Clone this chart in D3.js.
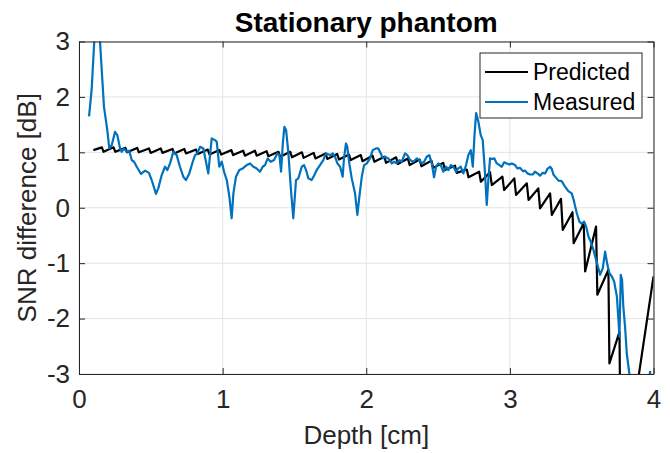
<!DOCTYPE html>
<html><head><meta charset="utf-8">
<script src="https://cdn.jsdelivr.net/npm/d3@7"></script>
<style>body{margin:0;background:#fff}svg{display:block}text{font-family:"Liberation Sans",Arial,Helvetica,sans-serif}</style>
</head><body>
<script>
const title = "Stationary phantom";
const xLabel = "Depth [cm]";
const yLabel = "SNR difference [dB]";
const seriesNames = ["Predicted", "Measured"];
const xTicks = [0, 1, 2, 3, 4];
const yTicks = [-3, -2, -1, 0, 1, 2, 3];

const predictedX = [0.100, 0.159, 0.171, 0.241, 0.253, 0.323, 0.335, 0.405, 0.417, 0.487, 0.499, 0.569, 0.581, 0.651, 0.663, 0.733, 0.745, 0.815, 0.827, 0.897, 0.909, 0.978, 0.990, 1.061, 1.073, 1.143, 1.155, 1.225, 1.237, 1.306, 1.318, 1.389, 1.401, 1.471, 1.483, 1.552, 1.564, 1.634, 1.646, 1.717, 1.729, 1.798, 1.810, 1.880, 1.892, 1.962, 1.974, 2.044, 2.056, 2.126, 2.138, 2.208, 2.220, 2.290, 2.302, 2.372, 2.384, 2.454, 2.466, 2.536, 2.548, 2.618, 2.630, 2.700, 2.712, 2.786, 2.798, 2.862, 2.874, 2.948, 2.960, 3.031, 3.043, 3.118, 3.130, 3.198, 3.210, 3.280, 3.292, 3.356, 3.368, 3.436, 3.444, 3.514, 3.524, 3.600, 3.609, 3.686, 3.693, 3.763, 3.768, 3.870, 4.000];
const predictedY = [1.04, 1.09, 1.01, 1.09, 1.01, 1.08, 1.00, 1.08, 1.00, 1.07, 0.99, 1.07, 0.99, 1.06, 0.98, 1.06, 0.98, 1.05, 0.97, 1.05, 0.96, 1.04, 0.96, 1.04, 0.95, 1.03, 0.94, 1.03, 0.94, 1.02, 0.93, 1.01, 0.92, 1.01, 0.91, 1.00, 0.90, 0.99, 0.89, 0.98, 0.88, 0.97, 0.87, 0.96, 0.86, 0.95, 0.84, 0.94, 0.83, 0.92, 0.81, 0.91, 0.79, 0.89, 0.77, 0.87, 0.75, 0.85, 0.72, 0.81, 0.68, 0.76, 0.63, 0.69, 0.55, 0.65, 0.47, 0.64, 0.41, 0.56, 0.32, 0.53, 0.23, 0.44, 0.14, 0.35, -0.01, 0.26, -0.13, 0.16, -0.40, -0.08, -0.64, -0.28, -1.15, -0.34, -1.57, -1.12, -2.81, -2.24, -3.60, -3.50, -1.24];

const measuredX = [0.070, 0.088, 0.125, 0.174, 0.197, 0.211, 0.228, 0.251, 0.267, 0.286, 0.297, 0.313, 0.332, 0.350, 0.367, 0.383, 0.402, 0.432, 0.460, 0.487, 0.506, 0.536, 0.552, 0.576, 0.599, 0.615, 0.634, 0.657, 0.680, 0.703, 0.726, 0.745, 0.768, 0.792, 0.808, 0.824, 0.843, 0.866, 0.884, 0.900, 0.924, 0.947, 0.959, 0.977, 0.994, 1.010, 1.029, 1.047, 1.063, 1.075, 1.093, 1.116, 1.140, 1.168, 1.191, 1.214, 1.237, 1.260, 1.279, 1.295, 1.314, 1.335, 1.358, 1.381, 1.395, 1.407, 1.419, 1.430, 1.442, 1.458, 1.474, 1.492, 1.511, 1.527, 1.551, 1.567, 1.581, 1.597, 1.620, 1.639, 1.655, 1.678, 1.701, 1.720, 1.748, 1.767, 1.783, 1.799, 1.818, 1.836, 1.845, 1.859, 1.868, 1.882, 1.899, 1.922, 1.938, 1.952, 1.969, 1.985, 2.004, 2.026, 2.045, 2.068, 2.084, 2.101, 2.115, 2.131, 2.154, 2.178, 2.194, 2.212, 2.231, 2.247, 2.270, 2.286, 2.305, 2.328, 2.352, 2.370, 2.387, 2.403, 2.421, 2.439, 2.456, 2.472, 2.486, 2.502, 2.519, 2.537, 2.556, 2.572, 2.589, 2.607, 2.625, 2.641, 2.658, 2.676, 2.695, 2.711, 2.728, 2.742, 2.753, 2.765, 2.781, 2.797, 2.811, 2.827, 2.839, 2.850, 2.862, 2.878, 2.892, 2.909, 2.927, 2.944, 2.960, 2.978, 2.997, 3.013, 3.036, 3.052, 3.071, 3.090, 3.106, 3.122, 3.141, 3.159, 3.175, 3.192, 3.210, 3.229, 3.245, 3.261, 3.280, 3.292, 3.303, 3.322, 3.338, 3.361, 3.384, 3.407, 3.431, 3.447, 3.466, 3.484, 3.501, 3.517, 3.531, 3.547, 3.563, 3.582, 3.600, 3.616, 3.628, 3.647, 3.663, 3.679, 3.693, 3.710, 3.726, 3.745, 3.756, 3.763, 3.772, 3.781, 3.790, 3.802, 3.814, 3.832, 3.851, 3.942, 3.976, 4.000];
const measuredY = [1.65, 2.13, 3.90, 1.82, 1.40, 1.07, 1.13, 1.37, 1.31, 1.07, 1.01, 1.07, 1.01, 1.03, 0.86, 0.83, 0.74, 0.61, 0.67, 0.63, 0.50, 0.25, 0.35, 0.59, 0.74, 0.68, 0.80, 1.01, 0.95, 0.74, 0.56, 0.50, 0.62, 0.83, 0.95, 0.98, 1.10, 1.07, 0.83, 0.62, 1.25, 1.22, 1.19, 0.74, 0.83, 0.65, 0.50, 0.20, -0.19, 0.26, 0.56, 0.68, 0.71, 0.77, 0.80, 0.74, 0.71, 0.65, 0.74, 0.77, 0.89, 0.83, 0.86, 0.98, 0.95, 0.65, 1.16, 1.46, 1.40, 0.98, 0.38, -0.19, 0.50, 0.53, 0.74, 0.77, 0.68, 0.53, 0.50, 0.59, 0.68, 0.77, 0.86, 0.98, 0.95, 0.98, 0.92, 0.80, 0.74, 0.56, 0.89, 1.16, 1.10, 0.80, 0.53, 0.26, -0.13, 0.20, 0.56, 0.77, 0.80, 0.89, 1.04, 1.07, 1.07, 0.98, 0.89, 0.92, 0.89, 0.80, 0.83, 0.80, 0.86, 0.83, 0.98, 0.95, 0.86, 0.83, 0.89, 0.86, 0.80, 0.83, 0.92, 0.95, 0.80, 0.55, 0.74, 0.80, 0.77, 0.65, 0.74, 0.68, 0.77, 0.74, 0.65, 0.71, 0.74, 0.62, 0.77, 0.95, 1.04, 0.74, 1.28, 1.71, 1.55, 1.31, 1.22, 0.62, 0.05, 0.50, 0.89, 0.88, 0.89, 0.80, 0.77, 0.74, 0.82, 0.80, 0.78, 0.80, 0.77, 0.71, 0.72, 0.66, 0.67, 0.62, 0.60, 0.60, 0.65, 0.62, 0.58, 0.63, 0.62, 0.70, 0.74, 0.70, 0.60, 0.54, 0.49, 0.48, 0.38, 0.30, 0.26, 0.11, -0.10, -0.25, -0.29, -0.25, -0.34, -0.52, -0.61, -0.76, -0.94, -1.09, -1.21, -1.09, -0.79, -1.03, -1.18, -1.24, -1.33, -1.60, -2.03, -2.33, -1.21, -1.30, -1.79, -2.15, -2.63, -3.00, -3.50, -3.60, -2.96, -3.50];

const W = 670, H = 453;
const L = 79, R = 653.5, T = 41.5, B = 374;
const axisColor = "#262626";

const svg = d3.select("body").append("svg").attr("width", W).attr("height", H);
const x = d3.scaleLinear().domain([0, 4]).range([L, R]);
const y = d3.scaleLinear().domain([-3, 3]).range([B, T]);

// grid
const g = svg.append("g");
g.selectAll("line.gx").data(xTicks).join("line")
  .attr("x1", d => x(d)).attr("x2", d => x(d)).attr("y1", T).attr("y2", B)
  .attr("stroke", "#e3e3e3").attr("stroke-width", 1);
g.selectAll("line.gy").data(yTicks).join("line")
  .attr("y1", d => y(d)).attr("y2", d => y(d)).attr("x1", L).attr("x2", R)
  .attr("stroke", "#e3e3e3").attr("stroke-width", 1);

// clip
svg.append("clipPath").attr("id", "clip").append("rect")
  .attr("x", L).attr("y", T).attr("width", R - L).attr("height", B - T);

const line = d3.line().x(d => x(d[0])).y(d => y(d[1]));
const pred = predictedX.map((v, i) => [v, predictedY[i]]);
const meas = measuredX.map((v, i) => [v, measuredY[i]]);
const plot = svg.append("g").attr("clip-path", "url(#clip)");
plot.append("path").datum(pred).attr("d", line).attr("fill", "none")
  .attr("stroke", "#000").attr("stroke-width", 2.2).attr("stroke-linejoin", "round");
plot.append("path").datum(meas).attr("d", line).attr("fill", "none")
  .attr("stroke", "#0072BD").attr("stroke-width", 2.2).attr("stroke-linejoin", "round");

// axes
const tickLen = 6;
const fmt = d => String(d);
const xAxisB = d3.axisBottom(x).tickValues(xTicks).tickSizeInner(-tickLen).tickSizeOuter(0).tickPadding(16).tickFormat(fmt);
const yAxisL = d3.axisLeft(y).tickValues(yTicks).tickSizeInner(-tickLen).tickSizeOuter(0).tickPadding(9).tickFormat(fmt);
const xAxisT = d3.axisTop(x).tickValues(xTicks).tickSizeInner(-tickLen).tickSizeOuter(0).tickFormat("");
const yAxisR = d3.axisRight(y).tickValues(yTicks).tickSizeInner(-tickLen).tickSizeOuter(0).tickFormat("");

function styleAxis(sel, fs) {
  sel.select(".domain").attr("stroke", axisColor).attr("stroke-width", 1);
  sel.selectAll(".tick line").attr("stroke", axisColor).attr("stroke-width", 1);
  sel.selectAll(".tick text").attr("fill", axisColor).style("font-size", fs + "px")
    .style("font-family", '"Liberation Sans", Arial, sans-serif');
}
svg.append("g").attr("transform", `translate(0,${B})`).call(xAxisB).call(s => styleAxis(s, 26));
svg.append("g").attr("transform", `translate(${L},0)`).call(yAxisL).call(s => styleAxis(s, 26));
svg.append("g").attr("transform", `translate(0,${T})`).call(xAxisT).call(s => styleAxis(s, 26));
svg.append("g").attr("transform", `translate(${R},0)`).call(yAxisR).call(s => styleAxis(s, 26));

// labels
svg.append("text").attr("x", (L + R) / 2).attr("y", 444).attr("text-anchor", "middle")
  .attr("fill", axisColor).style("font-size", "26px").text(xLabel);
svg.append("text").attr("transform", `translate(36,${(T + B) / 2}) rotate(-90)`).attr("text-anchor", "middle")
  .attr("fill", axisColor).style("font-size", "26px").text(yLabel);
svg.append("text").attr("x", (L + R) / 2).attr("y", 32).attr("text-anchor", "middle")
  .attr("fill", "#000").style("font-size", "28px").style("font-weight", "bold").text(title);

// legend
const lg = svg.append("g");
lg.append("rect").attr("x", 480).attr("y", 53).attr("width", 162).attr("height", 65)
  .attr("fill", "#fff").attr("stroke", axisColor).attr("stroke-width", 1);
const colors = ["#000", "#0072BD"];
const rows = [72, 102];
seriesNames.forEach((n, i) => {
  lg.append("line").attr("x1", 485).attr("x2", 528).attr("y1", rows[i]).attr("y2", rows[i])
    .attr("stroke", colors[i]).attr("stroke-width", 2.2);
  lg.append("text").attr("x", 533).attr("y", rows[i]).attr("dy", "0.35em")
    .attr("fill", "#000").style("font-size", "23px").text(n);
});
</script>
</body></html>
